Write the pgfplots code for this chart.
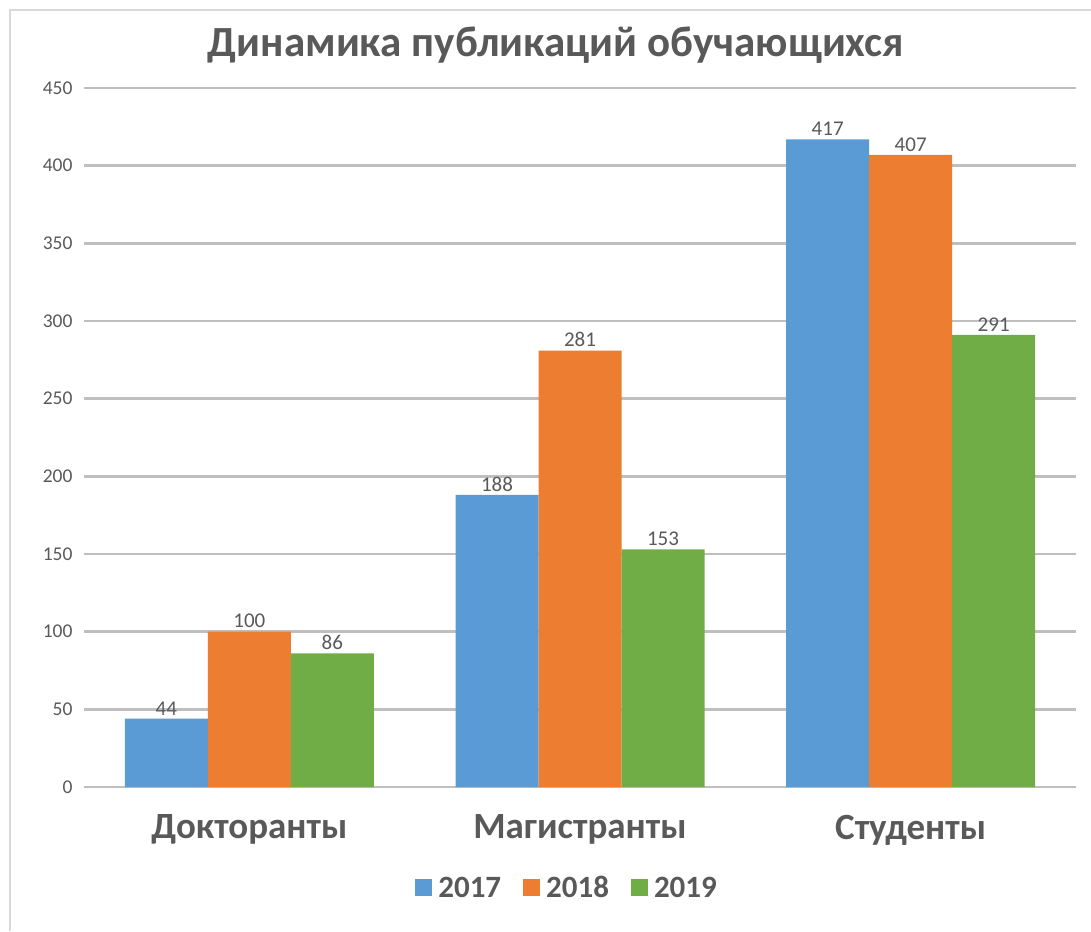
\documentclass[border=0pt]{standalone}
\usepackage{fontspec}
\setmainfont{Carlito}
\usepackage{pgfplots}
\pgfplotsset{compat=1.18}
\definecolor{cblue}{HTML}{5B9BD5}
\definecolor{corange}{HTML}{ED7D31}
\definecolor{cgreen}{HTML}{70AD47}
\definecolor{ctext}{HTML}{595959}
\definecolor{cgrid}{HTML}{BFBFBF}
\definecolor{cframe}{HTML}{D9D9D9}
\begin{document}
\begin{tikzpicture}[x=1pt,y=1pt]
\path[use as bounding box] (0,0) rectangle (1091,931);
\draw[cframe, line width=2pt] (10,0) -- (10,921) -- (1091,921);
\node[font=\fontsize{43}{47}\selectfont\bfseries, text=ctext] at (556,886) {Динамика публикаций обучающихся};
\begin{axis}[
  at={(84pt,144pt)}, anchor=south west,
  scale only axis, width=992pt, height=699pt,
  ybar=0pt, bar width=83pt,
  xmin=-0.5, xmax=2.5, ymin=0, ymax=450,
  ytick={0,50,...,450},
  xtick=data,
  xticklabels={Докторанты,Магистранты,Студенты},
  axis line style={draw=none},
  tick style={draw=none},
  ymajorgrids,
  major grid style={cgrid, line width=2.5pt},
  /pgf/number format/assume math mode=true,
  yticklabel style={font=\fontsize{19.5}{22}\selectfont, text=ctext, xshift=-8pt},
  xticklabel style={font=\fontsize{37}{40}\selectfont\bfseries, text=ctext, yshift=-20pt},
  nodes near coords,
  every node near coord/.append style={font=\fontsize{21}{23}\selectfont, text=ctext},
  legend columns=3,
  legend style={at={(0.487,-0.1445)}, anchor=center, draw=none, fill=none,
    font=\fontsize{31}{33}\selectfont\bfseries, text=ctext,
    /tikz/every even column/.append style={column sep=20pt}},
  legend image code/.code={\fill[#1] (0pt,-8pt) rectangle (17pt,9pt); \path (21pt,0pt);},
]
\addplot[fill=cblue, draw=none] coordinates {(0,44) (1,188) (2,417)};
\addplot[fill=corange, draw=none] coordinates {(0,100) (1,281) (2,407)};
\addplot[fill=cgreen, draw=none] coordinates {(0,86) (1,153) (2,291)};
\legend{2017,2018,2019}
\end{axis}
\end{tikzpicture}
\end{document}
